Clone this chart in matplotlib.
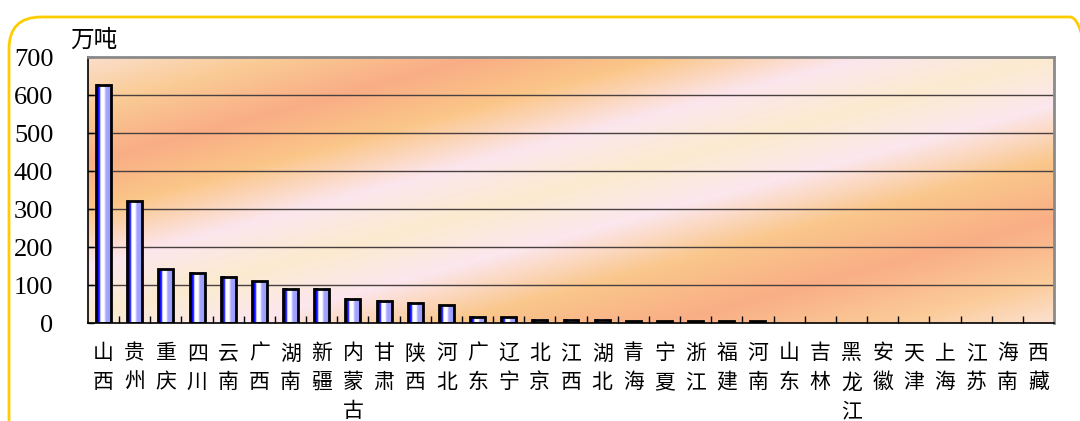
import numpy as np
import matplotlib
matplotlib.use("Agg")
import matplotlib.pyplot as plt
from matplotlib.colors import LinearSegmentedColormap
from matplotlib.patches import FancyBboxPatch, Rectangle
from matplotlib.transforms import IdentityTransform

provinces = ["山西", "贵州", "重庆", "四川", "云南", "广西", "湖南", "新疆", "内蒙古",
             "甘肃", "陕西", "河北", "广东", "辽宁", "北京", "江西", "湖北", "青海",
             "宁夏", "浙江", "福建", "河南", "山东", "吉林", "黑龙江", "安徽", "天津",
             "上海", "江苏", "海南", "西藏"]
values = [627, 321, 142, 132, 122, 110, 90, 90, 64, 59, 53, 47, 16, 15, 9, 9, 9,
          5, 5, 5, 5, 5, 0, 0, 0, 0, 0, 0, 0, 0, 0]
y_ticks = [0, 100, 200, 300, 400, 500, 600, 700]
unit_label = "万吨"

W, H = 1080, 421
fig = plt.figure(figsize=(W / 100, H / 100), dpi=100)

# rounded golden frame around the whole chart (pixel coordinates)
frame = FancyBboxPatch((9, -40), 1093, H - 17 + 40,
                       boxstyle="round,pad=0,rounding_size=32",
                       transform=IdentityTransform(), facecolor="none",
                       edgecolor="#FFCC00", linewidth=2.0, clip_on=False)
fig.patches.append(frame)

L, R, T, B = 88, 1054, 57, 323
ax = fig.add_axes([L / W, 1 - B / H, (R - L) / W, (B - T) / H])

# diagonal banded background
stops = [(60, "#FBE6E0"), (130, "#FACB95"), (185, "#F9AD85"), (235, "#FBC688"),
         (290, "#FCE6EE"), (340, "#FBEBCF"), (390, "#FCE7EE"), (445, "#FAC78C"),
         (505, "#F9AE85"), (565, "#FBCB98"), (620, "#FCE6DE")]
smin, smax = stops[0][0], stops[-1][0]
bg_cmap = LinearSegmentedColormap.from_list(
    "bands", [((s - smin) / (smax - smin), c) for s, c in stops])
gx = np.linspace(L, R, 400)
gy = np.linspace(T, B, 150)
X, Y = np.meshgrid(gx, gy)
S = (Y + 0.27 * X - smin) / (smax - smin)
ax.imshow(S, cmap=bg_cmap, vmin=0, vmax=1, extent=(0, 1, 0, 1),
          transform=ax.transAxes, aspect="auto", zorder=0, interpolation="bilinear")

n = len(provinces)

for yv in y_ticks[1:-1]:
    ax.axhline(yv, color="#4A4040", linewidth=1.0, zorder=1)

# bars with a blue / white / lavender shading
bar_cmap = LinearSegmentedColormap.from_list(
    "barshade", [(0, "#0000FF"), (0.22, "#1010FF"), (0.32, "#FFFFFF"),
                 (0.55, "#FFFFFF"), (0.66, "#A8A8FF"), (1, "#9A9AFF")])
grad = np.linspace(0, 1, 64).reshape(1, -1)
bw = 0.48
for i, v in enumerate(values):
    if v <= 0:
        continue
    ax.imshow(grad, cmap=bar_cmap, extent=(i - bw / 2, i + bw / 2, 0, v),
              aspect="auto", zorder=2, interpolation="bilinear")
    ax.add_patch(Rectangle((i - bw / 2, 0), bw, v, facecolor="none",
                           edgecolor="black", linewidth=2.0, zorder=3))
ax.set_xlim(-0.5, n - 0.5)
ax.set_ylim(0, 700)

for side in ["left", "bottom"]:
    ax.spines[side].set_color("black")
    ax.spines[side].set_linewidth(1.2)
for side in ["top", "right"]:
    ax.spines[side].set_color("#8A8A8A")
    ax.spines[side].set_linewidth(2.0)

ax.set_yticks(y_ticks)
ax.set_yticklabels([str(t) for t in y_ticks], fontfamily="Liberation Serif",
                   fontsize=19)
ax.tick_params(axis="y", direction="in", length=4, width=1, pad=25, colors="black")

ax.set_xticks(range(n))
ax.set_xticklabels(["\n".join(p) for p in provinces],
                   fontfamily=["Noto Sans CJK SC", "DejaVu Sans"], fontsize=15,
                   linespacing=1.40, va="top")
ax.tick_params(axis="x", which="major", length=0, pad=14)
ax.set_xticks(np.arange(0.5, n - 0.5, 1), minor=True)
ax.tick_params(axis="x", which="minor", direction="in", length=5, width=1)

fig.text(70 / W, 1 - 40 / H, unit_label, fontfamily="Noto Sans CJK SC",
         fontsize=17, va="center", ha="left")

fig.savefig("out.png", dpi=100)
